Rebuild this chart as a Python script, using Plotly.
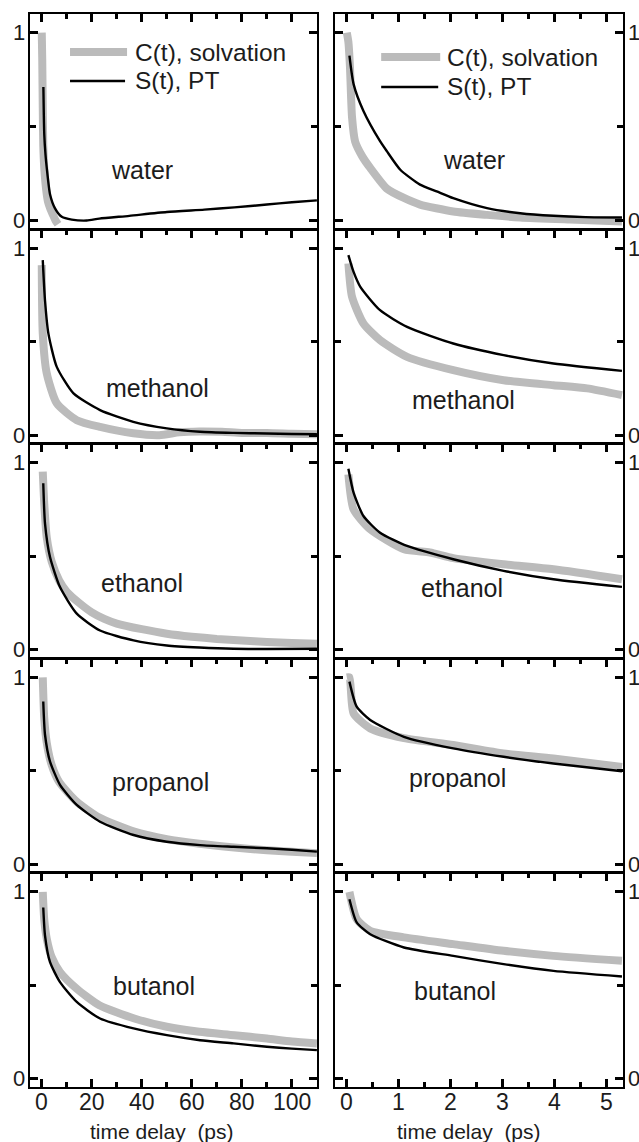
import plotly.graph_objects as go

# ---------------- data ----------------
solvents = ["water", "methanol", "ethanol", "propanol", "butanol"]

# long time window (ps), left column
t_water_long_C = [0, 0.2, 0.4, 0.6, 1.0, 1.8, 2.5, 3.5, 4.5, 5.5, 6.5]
water_long_C = [1.0, 0.85, 0.6, 0.4, 0.28, 0.16, 0.1, 0.06, 0.03, 0.0, -0.02]
t_water_long_S = [0.65, 0.8, 1.0, 1.5, 2.0, 3.3, 5.3, 8, 12, 18, 23, 35, 50, 65, 77, 90, 100, 110]
water_long_S = [0.71, 0.58, 0.46, 0.35, 0.28, 0.14, 0.065, 0.02, 0.005, 0.0, 0.01, 0.025, 0.045, 0.058, 0.07, 0.085, 0.097, 0.107]

t_methanol_long_C = [0, 0.4, 2, 6, 14, 23.3, 36.6, 47, 55, 63, 72, 80, 90, 100, 110]
methanol_long_C = [0.909, 0.544, 0.33, 0.17, 0.08, 0.044, 0.01, 0.0, 0.015, 0.02, 0.018, 0.012, 0.012, 0.008, 0.005]
t_methanol_long_S = [0.4, 1.3, 2.65, 6, 12.7, 23.3, 36.6, 50, 63.3, 76.7, 90, 100, 110]
methanol_long_S = [0.936, 0.72, 0.544, 0.365, 0.223, 0.134, 0.071, 0.036, 0.018, 0.012, 0.009, 0.006, 0.005]

t_ethanol_long_C = [0.4, 1, 2, 4, 7, 10, 15, 20, 25, 30, 40, 50, 60, 70, 80, 90, 100, 110]
ethanol_long_C = [0.952, 0.78, 0.6, 0.47, 0.37, 0.31, 0.25, 0.2, 0.165, 0.14, 0.11, 0.086, 0.07, 0.058, 0.05, 0.042, 0.036, 0.032]
t_ethanol_long_S = [0.6, 1.3, 3.3, 7.3, 14, 23.3, 36.7, 50, 63, 76.7, 90, 110]
ethanol_long_S = [0.89, 0.675, 0.496, 0.335, 0.193, 0.103, 0.05, 0.023, 0.012, 0.005, 0.004, 0.005]

t_propanol_long_C = [0.4, 1, 2, 4, 7, 14, 23, 37, 50, 63, 77, 90, 100, 110]
propanol_long_C = [1.0, 0.78, 0.65, 0.53, 0.44, 0.335, 0.25, 0.175, 0.135, 0.11, 0.09, 0.075, 0.067, 0.06]
t_propanol_long_S = [0.6, 1.3, 3.3, 7.3, 14, 23.3, 36.7, 50, 63.3, 76.7, 90, 100, 110]
propanol_long_S = [0.871, 0.693, 0.55, 0.425, 0.318, 0.228, 0.157, 0.121, 0.103, 0.094, 0.086, 0.078, 0.068]

t_butanol_long_C = [0.4, 1, 2, 4, 7.3, 14, 23, 37, 50, 63, 77, 90, 100, 110]
butanol_long_C = [1.0, 0.85, 0.75, 0.65, 0.571, 0.482, 0.394, 0.323, 0.279, 0.252, 0.234, 0.216, 0.2, 0.19]
t_butanol_long_S = [0.6, 1.3, 3.3, 7.3, 14, 23.3, 36.7, 50, 63.3, 76.7, 90, 100, 110]
butanol_long_S = [0.917, 0.766, 0.624, 0.518, 0.412, 0.323, 0.27, 0.234, 0.207, 0.19, 0.172, 0.162, 0.154]

# short time window (ps), right column
t_water_short_C = [0, 0.03, 0.06, 0.1, 0.16, 0.3, 0.45, 0.77, 1.1, 1.41, 2.05, 2.7, 3.34, 4.3, 5.3]
water_short_C = [1.0, 0.95, 0.82, 0.55, 0.42, 0.34, 0.28, 0.17, 0.12, 0.085, 0.048, 0.03, 0.016, 0.005, -0.005]
t_water_short_S = [0.05, 0.13, 0.32, 0.64, 0.77, 1.03, 1.41, 1.73, 2.05, 2.7, 3.34, 3.98, 4.6, 5.3]
water_short_S = [0.877, 0.726, 0.583, 0.422, 0.369, 0.27, 0.191, 0.155, 0.119, 0.066, 0.039, 0.025, 0.018, 0.016]

t_methanol_short_C = [0.03, 0.1, 0.32, 0.64, 1.16, 2.05, 3.02, 3.98, 4.63, 5.3]
methanol_short_C = [0.918, 0.74, 0.597, 0.508, 0.419, 0.348, 0.294, 0.267, 0.25, 0.214]
t_methanol_short_S = [0.03, 0.13, 0.26, 0.64, 1.16, 2.05, 3.02, 3.98, 5.3]
methanol_short_S = [0.963, 0.873, 0.793, 0.668, 0.579, 0.49, 0.428, 0.383, 0.344]

t_ethanol_short_C = [0.03, 0.13, 0.45, 1.1, 1.6, 2.05, 3.02, 3.98, 5.3]
ethanol_short_C = [0.937, 0.75, 0.644, 0.537, 0.52, 0.49, 0.457, 0.43, 0.377]
t_ethanol_short_S = [0.03, 0.13, 0.32, 0.64, 1.16, 2.05, 3.02, 3.98, 5.3]
ethanol_short_S = [0.968, 0.84, 0.715, 0.626, 0.555, 0.484, 0.422, 0.377, 0.336]

t_propanol_short_C = [0.0, 0.05, 0.13, 0.45, 1.1, 2.05, 3.02, 3.98, 5.3]
propanol_short_C = [1.0, 1.0, 0.807, 0.727, 0.675, 0.638, 0.593, 0.566, 0.521]
t_propanol_short_S = [0.05, 0.19, 0.45, 1.1, 2.05, 3.02, 3.98, 5.3]
propanol_short_S = [0.977, 0.843, 0.772, 0.682, 0.62, 0.575, 0.539, 0.498]

t_butanol_short_C = [0.05, 0.19, 0.45, 1.1, 2.05, 3.02, 3.98, 5.3]
butanol_short_C = [1.0, 0.854, 0.792, 0.757, 0.721, 0.685, 0.658, 0.632]
t_butanol_short_S = [0.05, 0.19, 0.45, 1.1, 2.05, 3.02, 3.98, 5.3]
butanol_short_S = [0.961, 0.837, 0.774, 0.703, 0.658, 0.614, 0.578, 0.548]

long_C = [(t_water_long_C, water_long_C), (t_methanol_long_C, methanol_long_C),
          (t_ethanol_long_C, ethanol_long_C), (t_propanol_long_C, propanol_long_C),
          (t_butanol_long_C, butanol_long_C)]
long_S = [(t_water_long_S, water_long_S), (t_methanol_long_S, methanol_long_S),
          (t_ethanol_long_S, ethanol_long_S), (t_propanol_long_S, propanol_long_S),
          (t_butanol_long_S, butanol_long_S)]
short_C = [(t_water_short_C, water_short_C), (t_methanol_short_C, methanol_short_C),
           (t_ethanol_short_C, ethanol_short_C), (t_propanol_short_C, propanol_short_C),
           (t_butanol_short_C, butanol_short_C)]
short_S = [(t_water_short_S, water_short_S), (t_methanol_short_S, methanol_short_S),
           (t_ethanol_short_S, ethanol_short_S), (t_propanol_short_S, propanol_short_S),
           (t_butanol_short_S, butanol_short_S)]

legend_labels = ["C(t), solvation", "S(t), PT"]
x_title = "time delay\u00a0 (ps)"
long_ticks = [0, 20, 40, 60, 80, 100]
short_ticks = [0, 1, 2, 3, 4, 5]
y_ticks = [0, 1]

# ---------------- layout geometry ----------------
W, H = 639, 1142
L, R, T, B = 30, 622.7, 14, 1087
PW, PH = R - L, B - T
GREY = "#bbbbbb"
INK = "#1c1c1c"
FONT = "Liberation Sans, Arial, sans-serif"
LW = 2
TW = 2.6

def px_x(p):
    return (p - L) / PW

def px_y(p):
    return (B - p) / PH

col_dom = [[0, px_x(317)], [px_x(335), 1]]
row_h = PH / 5
GAP = 1.0  # px between stacked panels, filled by their frame lines

fig = go.Figure()
layout = {}
annotations = []
shapes = []

for r in range(5):
    top = T + r * row_h + (GAP if r > 0 else 0)
    bot = T + (r + 1) * row_h
    ydom = [px_y(bot), px_y(top)]
    for c in range(2):
        idx = r * 2 + c + 1
        xa = "x" if idx == 1 else f"x{idx}"
        ya = "y" if idx == 1 else f"y{idx}"
        Cset = long_C if c == 0 else short_C
        Sset = long_S if c == 0 else short_S
        fig.add_trace(go.Scatter(x=Cset[r][0], y=Cset[r][1], mode="lines",
                                 line=dict(color=GREY, width=8, shape="spline", smoothing=0.6),
                                 xaxis=xa, yaxis=ya, showlegend=False, hoverinfo="skip"))
        fig.add_trace(go.Scatter(x=Sset[r][0], y=Sset[r][1], mode="lines",
                                 line=dict(color="black", width=2.4, shape="spline", smoothing=0.6),
                                 xaxis=xa, yaxis=ya, showlegend=False, hoverinfo="skip"))
        if c == 0:
            xr = [-4.7, 110.1]
            majors, mdt = long_ticks, 10
        else:
            xr = [-0.225, 5.32]
            majors, mdt = short_ticks, 0.5
        bottom_row = (r == 4)
        layout["xaxis" if idx == 1 else f"xaxis{idx}"] = dict(
            domain=col_dom[c], anchor=ya, range=xr, tickmode="array", tickvals=majors,
            side="bottom" if bottom_row else "top",
            ticks="inside", ticklen=8, tickwidth=TW, tickcolor="black",
            showline=True, linewidth=LW, linecolor="black",
            mirror="allticks" if bottom_row else True,
            showgrid=False, zeroline=False, showticklabels=False, automargin=False,
            minor=dict(dtick=mdt, tick0=0, ticks="inside", ticklen=5, tickwidth=TW,
                       tickcolor="black", showgrid=False),
        )
        layout["yaxis" if idx == 1 else f"yaxis{idx}"] = dict(
            domain=ydom, anchor=xa, range=[-0.043, 1.099], tickmode="linear", tick0=0, dtick=1,
            ticks="inside", ticklen=8, tickwidth=TW, tickcolor="black",
            showline=True, linewidth=LW, linecolor="black", mirror="allticks",
            showgrid=False, zeroline=False, side="left" if c == 0 else "right", automargin=False,
            showticklabels=False,
            minor=dict(dtick=0.5, tick0=0, ticks="inside", ticklen=6, tickwidth=TW,
                       tickcolor="black", showgrid=False),
        )

# tick labels placed on the axes' own scales
for tv in long_ticks:
    annotations.append(dict(x=tv, xref="x9", y=px_y(1102), yref="paper", text=str(tv),
                            showarrow=False, xanchor="center", yanchor="middle", borderpad=0,
                            font=dict(family=FONT, size=23, color=INK)))
for tv in short_ticks:
    annotations.append(dict(x=tv, xref="x10", y=px_y(1102), yref="paper", text=str(tv),
                            showarrow=False, xanchor="center", yanchor="middle", borderpad=0,
                            font=dict(family=FONT, size=23, color=INK)))
for r in range(5):
    for c in range(2):
        idx = r * 2 + c + 1
        ya = "y" if idx == 1 else f"y{idx}"
        for tv in y_ticks:
            if c == 0:
                annotations.append(dict(x=px_x(26.5), xref="paper", y=tv, yref=ya, text=str(tv),
                                        showarrow=False, xanchor="right", yanchor="middle", borderpad=0,
                                        font=dict(family=FONT, size=22, color=INK)))
            else:
                annotations.append(dict(x=px_x(626.5), xref="paper", y=tv, yref=ya, text=str(tv),
                                        showarrow=False, xanchor="left", yanchor="middle", borderpad=0,
                                        font=dict(family=FONT, size=22, color=INK)))

# solvent labels (pixel centre positions)
label_pos = [
    [(142, 170), (474, 160)],
    [(157, 388), (463, 400)],
    [(142, 583), (462, 588)],
    [(160, 782), (457, 778)],
    [(154, 986), (455, 991)],
]
for r, name in enumerate(solvents):
    for c in range(2):
        px, py = label_pos[r][c]
        annotations.append(dict(x=px_x(px), y=px_y(py), xref="paper", yref="paper",
                                text=name, showarrow=False, xanchor="center", yanchor="middle",
                                font=dict(family=FONT, size=25, color=INK)))

# legends in the top panels
legend_geo = [
    dict(x0=70, x1=127, yC=52, yS=81, tx=133),
    dict(x0=381, x1=440, yC=57, yS=87, tx=445),
]
for g in legend_geo:
    shapes.append(dict(type="line", xref="paper", yref="paper",
                       x0=px_x(g["x0"]), x1=px_x(g["x1"]), y0=px_y(g["yC"]), y1=px_y(g["yC"]),
                       line=dict(color=GREY, width=8)))
    shapes.append(dict(type="line", xref="paper", yref="paper",
                       x0=px_x(g["x0"]), x1=px_x(g["x1"] - 2), y0=px_y(g["yS"]), y1=px_y(g["yS"]),
                       line=dict(color="black", width=2.4)))
    annotations.append(dict(x=px_x(g["tx"]), y=px_y(g["yC"]), xref="paper", yref="paper",
                            text=legend_labels[0], showarrow=False, xanchor="left", yanchor="middle",
                            font=dict(family=FONT, size=24.5, color=INK)))
    annotations.append(dict(x=px_x(g["tx"]), y=px_y(g["yS"]), xref="paper", yref="paper",
                            text=legend_labels[1], showarrow=False, xanchor="left", yanchor="middle",
                            font=dict(family=FONT, size=24.5, color=INK)))

# x-axis titles
for cx in (162, 469):
    annotations.append(dict(x=px_x(cx), y=px_y(1131), xref="paper", yref="paper",
                            text=x_title, showarrow=False, xanchor="center", yanchor="middle",
                            font=dict(family=FONT, size=21, color=INK)))

fig.update_layout(**layout)
fig.update_layout(
    template="none",
    width=W, height=H, autosize=False,
    margin=dict(l=L, r=W - R, t=T, b=H - B, pad=0),
    paper_bgcolor="white", plot_bgcolor="white",
    showlegend=False, annotations=annotations, shapes=shapes,
    font=dict(family=FONT, color=INK),
)

fig.write_html("out.html")
